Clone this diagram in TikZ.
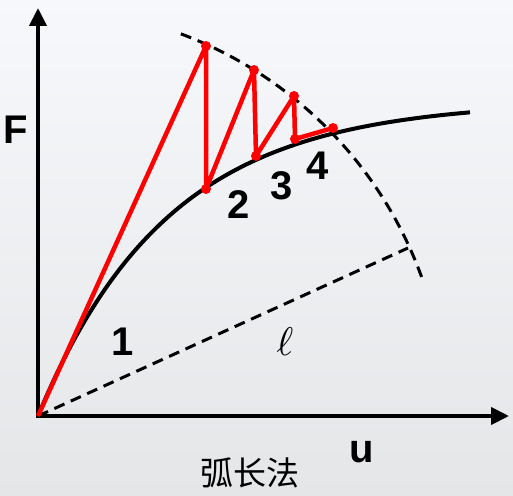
\documentclass[tikz,border=0pt]{standalone}
\usepackage{fontspec}
\setmainfont{Liberation Sans}
\newfontfamily\cjk{Noto Sans CJK SC}
\usetikzlibrary{arrows.meta}
\definecolor{bgtop}{HTML}{F6F8FB}
\definecolor{bgbot}{HTML}{E5E6E8}
\definecolor{itred}{HTML}{FF0000}

\begin{document}
\begin{tikzpicture}[x=1pt,y=-1pt,
    axis/.style={line width=4pt,-{Triangle[width=17pt,length=18pt]}},
    dashline/.style={line width=3pt,dash pattern=on 11pt off 7pt},
    iter/.style={draw=itred,line width=4.5pt,line join=round},
    dot/.style={circle,fill=itred,inner sep=0pt,minimum size=10pt},
    lbl/.style={font=\fontsize{40}{40}\selectfont\bfseries}]
            % background
            \shade[top color=bgtop,bottom color=bgbot] (0,0) rectangle (513,495);

            \coordinate (o) at (38,416);
            \coordinate (ybot) at (38,418);
            \coordinate (ytop) at (38,8);
            \coordinate (xbeg) at (36,416);
            \coordinate (xend) at (509,416);
            \coordinate (lend) at (408,248);

            % axes
            \draw[axis] (ybot) -- (ytop);
            \draw[axis] (xbeg) -- (xend);

            % arc and radius
            \draw[dashline] (o) ++(-69.5:408) arc[start angle=-69.5,end angle=-19,radius=408];
            \draw[dashline] (o) -- (lend);

            % equilibrium path
            \draw[line width=4pt] plot[domain=0:432,samples=90]
              ({38+\x},{416-315*(1-exp(-\x/130))});

            % iterations
            \node (t1) at (206,46) [dot] {};
            \node (b1) at (206,189) [dot] {};
            \node (t2) at (254,70) [dot] {};
            \node (b2) at (256,156) [dot] {};
            \node (t3) at (294,96) [dot] {};
            \node (b3) at (295,139) [dot] {};
            \node (e4) at (333,128) [dot] {};

            \draw[iter]
            (o) -- (t1.center) -- (b1.center) -- (t2.center) -- (b2.center)
            -- (t3.center) -- (b3.center) -- (e4.center);

            % labels
            \node (lF) at (16,130) [lbl] {F};
            \node (lu) at (362,452) [lbl] {u};
            \node (l1) at (123,342) [lbl] {1};
            \node (l2) at (239,205) [lbl] {2};
            \node (l3) at (282,186) [lbl] {3};
            \node (l4) at (318,166) [lbl] {4};
            \node (ll) at (285,342) {\scalebox{4}{$\ell$}};
            \node (name) at (250,473) {\fontsize{33}{33}\selectfont\cjk 弧长法};
\end{tikzpicture}
\end{document}
